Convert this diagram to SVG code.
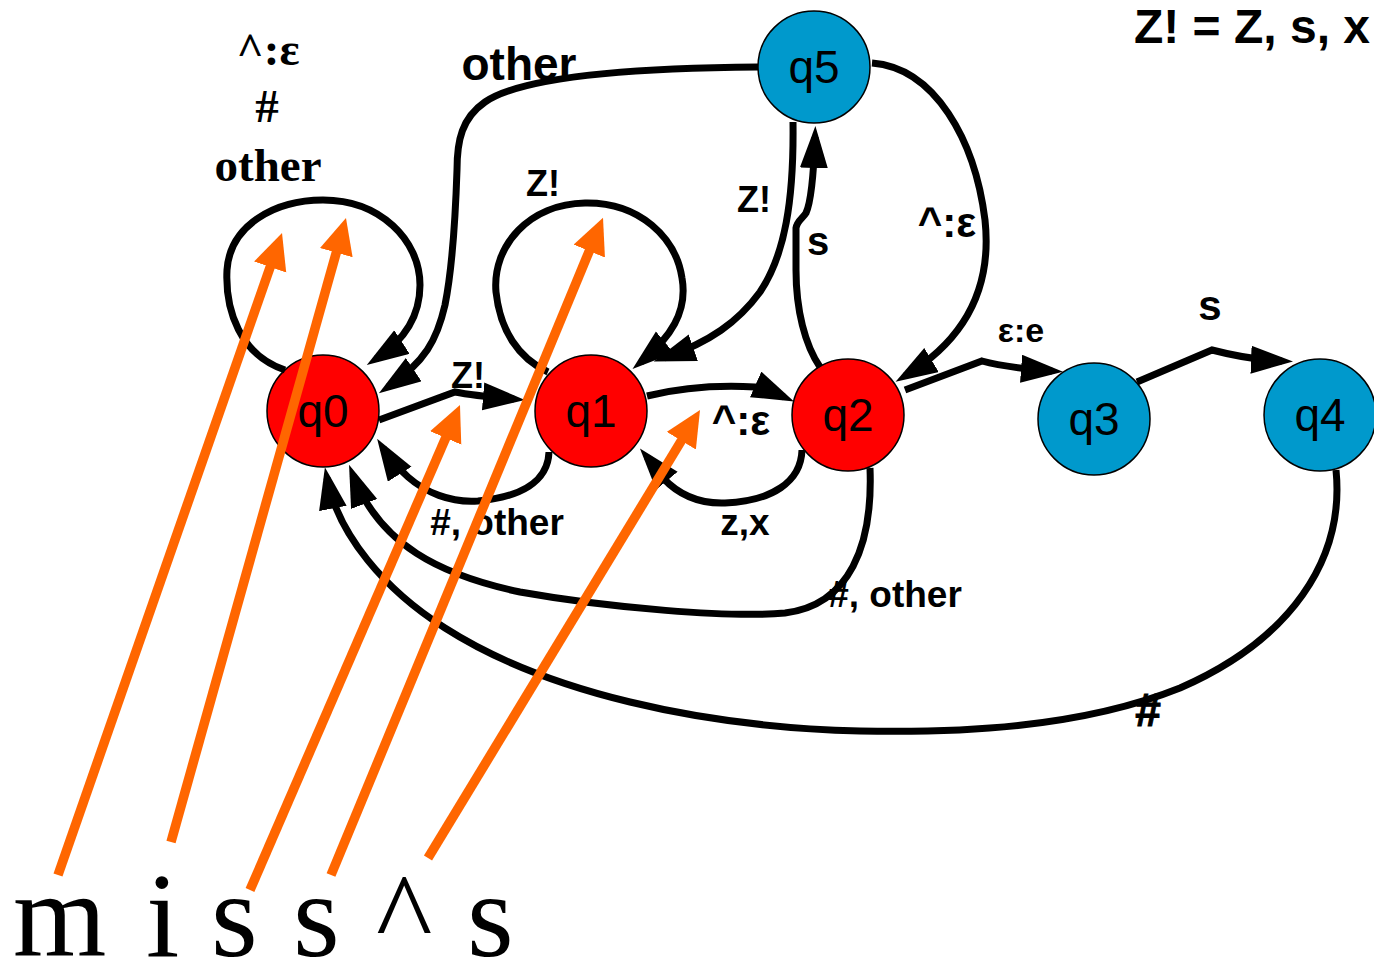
<svg xmlns="http://www.w3.org/2000/svg" width="1374" height="964" viewBox="0 0 1374 964">
<style>
.red{fill:#FF0000;stroke:#000;stroke-width:1.5}
.blue{fill:#0099CC;stroke:#000;stroke-width:1.5}
.nl{font-family:"Liberation Sans",Arial,sans-serif;font-size:46px;text-anchor:middle;fill:#000}
.e{fill:none;stroke:#000;stroke-width:7;marker-end:url(#ah)}
.el{font-family:"Liberation Sans",Arial,sans-serif;font-weight:bold;font-size:36px;text-anchor:middle;fill:#000}
.tl{font-family:"Liberation Serif","Times New Roman",serif;font-weight:bold;font-size:47px;text-anchor:middle;fill:#000}
.o{fill:none;stroke:#FF6600;stroke-width:9.5;marker-end:url(#oh)}
.big{font-family:"Liberation Serif","Times New Roman",serif;font-size:120px;fill:#000}
</style>
<defs>
<marker id="ah" markerUnits="userSpaceOnUse" markerWidth="44" markerHeight="30" refX="31" refY="14" orient="auto"><path d="M0,0 L42,14 L0,28 z" fill="#000"/></marker>
<marker id="oh" markerUnits="userSpaceOnUse" markerWidth="38" markerHeight="36" refX="25" refY="17" orient="auto"><path d="M0,0 L36,17 L0,34 z" fill="#FF6600"/></marker>
</defs>
<rect width="1374" height="964" fill="#fff"/>
<g id="q0"><circle class="red" cx="323" cy="411" r="56"/><text class="nl" x="323" y="427">q0</text></g>
<g id="q1"><circle class="red" cx="591" cy="411" r="56"/><text class="nl" x="591" y="427">q1</text></g>
<g id="q2"><circle class="red" cx="848" cy="415" r="56"/><text class="nl" x="848" y="431">q2</text></g>
<g id="q3"><circle class="blue" cx="1094" cy="419" r="56"/><text class="nl" x="1094" y="435">q3</text></g>
<g id="q4"><circle class="blue" cx="1320" cy="415" r="56"/><text class="nl" x="1320" y="431">q4</text></g>
<g id="q5"><circle class="blue" cx="814" cy="67" r="56"/><text class="nl" x="814" y="83">q5</text></g>
<g id="connectors">
<path class="e" d="M285,370 C240,355 225,310 227,270 C230,225 275,200 323,200 C380,200 420,240 420,285 C420,315 405,340 376,359"/>
<path class="e" d="M758,67 C620,68 520,78 485,102 C462,118 457,140 457,170 C455,230 452,270 445,305 C437,340 425,362 388,387"/>
<path class="e" d="M379,420 L455,392 C470,395 490,397 514,399"/>
<path class="e" d="M548,372 C518,358 500,330 496,292 C492,245 530,204 585,203 C640,202 676,238 682,278 C688,312 670,338 641,362"/>
<path class="e" d="M793,122 C794,200 785,255 760,292 C738,322 710,342 664,358"/>
<path class="e" d="M647,396 C680,388 720,385 755,387 C767,388 775,393 784,397"/>
<path class="e" d="M549,452 C548,482 520,497 478,501 C450,503 425,492 408,477 C397,467 390,459 383,448"/>
<path class="e" d="M802,450 C801,482 772,501 725,503 C697,504 677,493 663,478 C657,472 652,463 647,457"/>
<path class="e" d="M870,468 C873,545 850,605 785,613 C730,618 610,608 520,592 C440,575 380,545 353,475"/>
<path class="e" d="M1336,470 C1345,560 1290,640 1180,688 C1080,728 960,733 860,731 C700,727 545,692 445,628 C385,590 338,535 327,478"/>
<path class="e" d="M820,367 C805,345 796,310 796,270 L796,228 C797,221 803,218 806,213 C812,200 814,165 815,137"/>
<path class="e" d="M872,63 C935,68 975,140 985,220 C992,285 968,338 905,376"/>
<path class="e" d="M905,390 L982,361 C1000,366 1025,369 1052,371"/>
<path class="e" d="M1137,382 L1212,350 C1235,356 1258,360 1282,361"/>
</g>
<g id="labels">
<text class="tl" x="268" y="65">^:ε</text>
<text class="tl" x="267" y="122">#</text>
<text class="tl" x="268" y="181">other</text>
<text class="el" x="519" y="80" style="font-size:46px">other</text>
<text class="el" x="1252" y="43" style="font-size:48px">Z! = Z, s, x</text>
<text class="el" x="468" y="388">Z!</text>
<text class="el" x="543" y="196">Z!</text>
<text class="el" x="754" y="212">Z!</text>
<text class="el" x="818" y="255" style="font-size:40px">s</text>
<text class="el" x="947" y="237" style="font-size:42px">^:ε</text>
<text class="el" x="741" y="435" style="font-size:42px">^:ε</text>
<text class="el" x="497" y="535" style="font-size:37px">#, other</text>
<text class="el" x="745" y="535" style="font-size:37px">z,x</text>
<text class="el" x="895" y="607" style="font-size:37px">#, other</text>
<text class="el" x="1148" y="726" style="font-size:46px;stroke:#000;stroke-width:1">#</text>
<text class="el" x="1021" y="342" style="font-size:34px">ε:e</text>
<text class="el" x="1210" y="320" style="font-size:42px">s</text>
</g>
<g id="pointers">
<path class="o" d="M58,875 L278.4,243.4"/>
<path class="o" d="M171,842 L343,228.6"/>
<path class="o" d="M250,890 L455.6,415"/>
<path class="o" d="M331,875 L598.8,228"/>
<path class="o" d="M428,858 L694.3,419.4"/>
</g>
<text class="big" y="956"><tspan x="13">m</tspan><tspan x="146">i</tspan><tspan x="211">s</tspan><tspan x="293">s</tspan><tspan x="376">^</tspan><tspan x="467">s</tspan></text>
</svg>
